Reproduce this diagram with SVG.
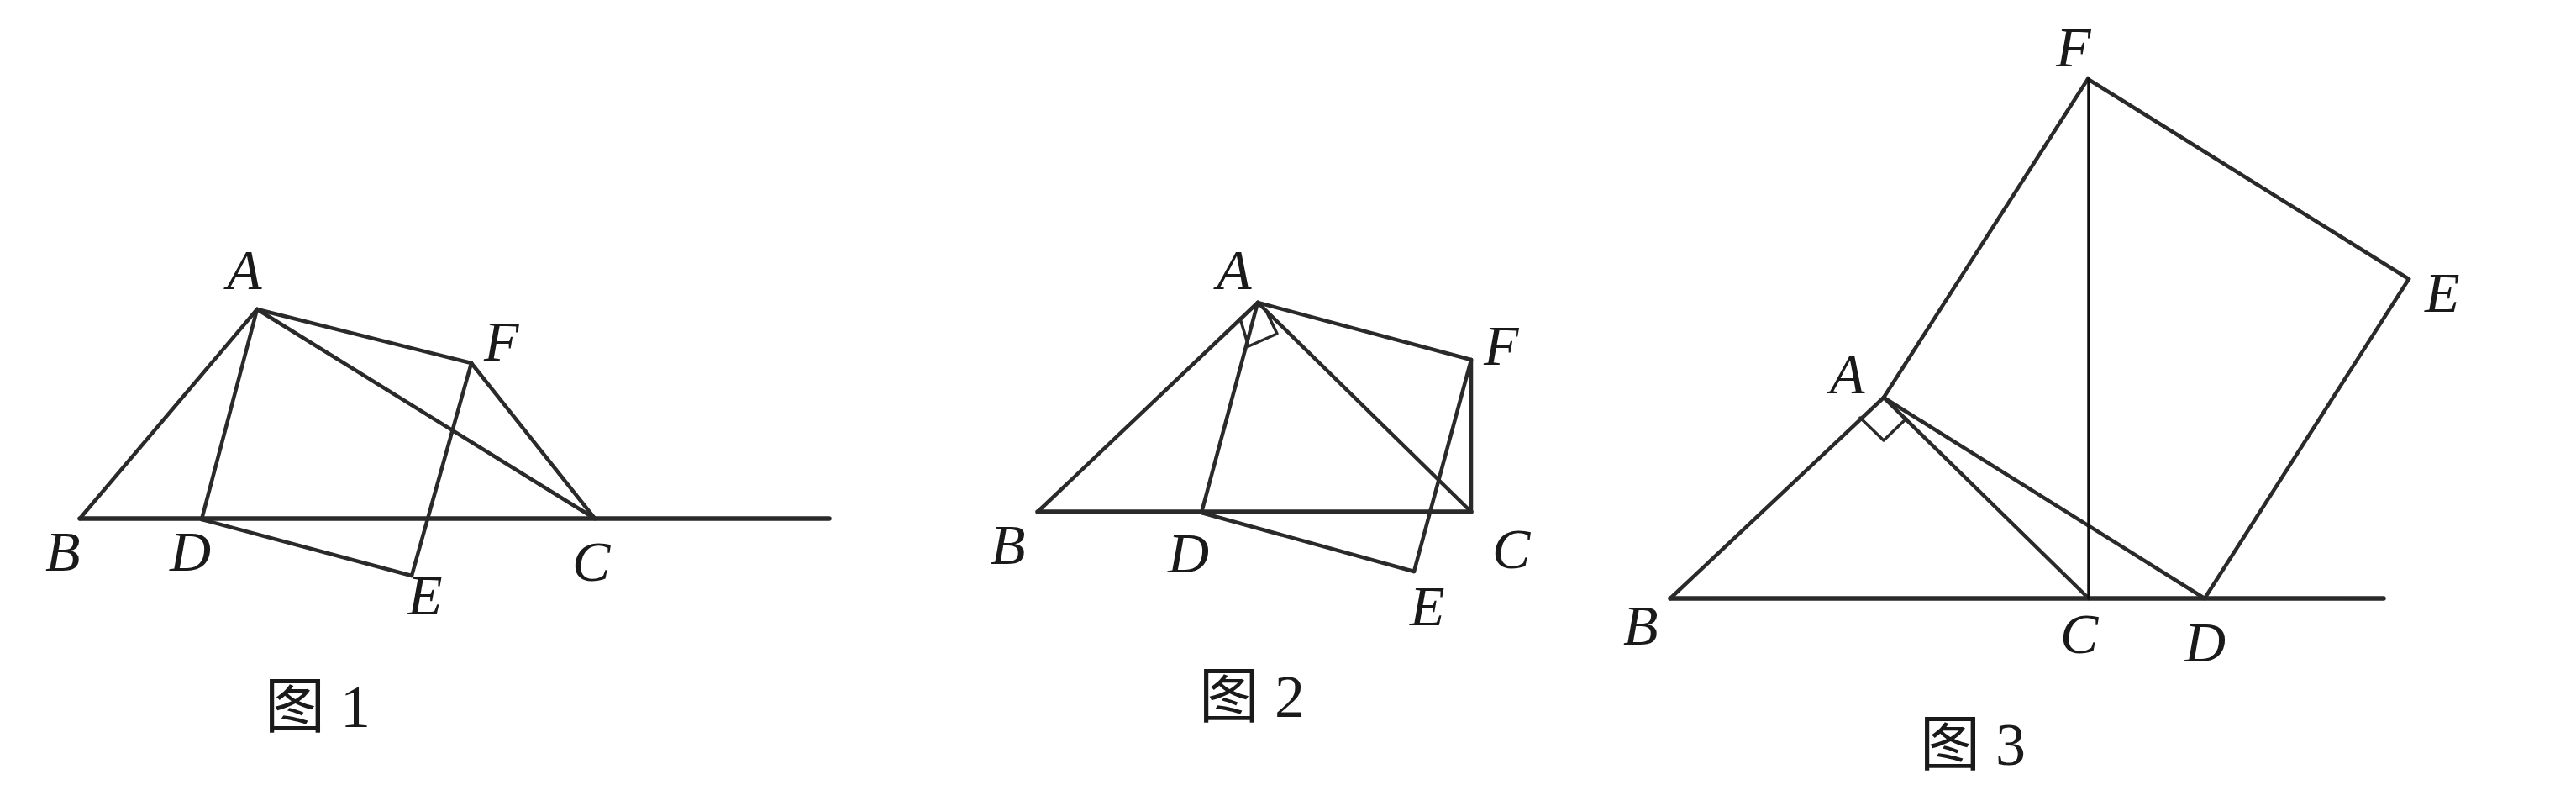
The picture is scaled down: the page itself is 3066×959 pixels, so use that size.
<svg xmlns="http://www.w3.org/2000/svg" width="3066" height="959" viewBox="0 0 3066 959">
<style>
.ln{stroke:#2a2a2a;stroke-width:4.5;fill:none;stroke-linecap:round;stroke-linejoin:round}
.base{stroke-width:5.5}
.thin{stroke:#111;stroke-width:3.5}
.lbl{font-family:"Liberation Serif","Times New Roman",serif;font-style:italic;font-size:68px;fill:#1a1a1a}
.cap{font-family:"Liberation Serif","Noto Sans CJK SC",serif;font-size:72px;fill:#1a1a1a}
</style>
<rect width="3066" height="959" fill="#fff"/>

<g id="fig1">
  <g id="fig1-lines">
    <line class="ln base" x1="95" y1="617" x2="987" y2="617"/>
    <line class="ln" x1="306" y1="368" x2="95" y2="617"/>
    <line class="ln" x1="306" y1="368" x2="240" y2="618"/>
    <line class="ln" x1="306" y1="368" x2="708" y2="617"/>
    <line class="ln" x1="306" y1="368" x2="561" y2="432"/>
    <line class="ln" x1="561" y1="432" x2="708" y2="617"/>
    <line class="ln" x1="561" y1="432" x2="490" y2="685"/>
    <line class="ln" x1="240" y1="618" x2="490" y2="685"/>
  </g>
  <g id="fig1-A"><text class="lbl" x="270" y="344">A</text></g>
  <g id="fig1-F"><text class="lbl" x="576" y="429">F</text></g>
  <g id="fig1-B"><text class="lbl" x="54" y="679">B</text></g>
  <g id="fig1-D"><text class="lbl" x="202" y="679">D</text></g>
  <g id="fig1-E"><text class="lbl" x="485" y="731">E</text></g>
  <g id="fig1-C"><text class="lbl" x="681" y="691">C</text></g>
  <g id="fig1-caption"><text class="cap" x="315" y="865">图 1</text></g>
</g>

<g id="fig2">
  <g id="fig2-lines">
    <line class="ln base" x1="1235" y1="609" x2="1751" y2="609"/>
    <line class="ln" x1="1497" y1="360" x2="1235" y2="609"/>
    <line class="ln" x1="1497" y1="360" x2="1430" y2="610"/>
    <line class="ln" x1="1497" y1="360" x2="1751" y2="609"/>
    <line class="ln" x1="1497" y1="360" x2="1751" y2="428"/>
    <line class="ln" x1="1751" y1="428" x2="1751" y2="609"/>
    <line class="ln" x1="1751" y1="428" x2="1683" y2="680"/>
    <line class="ln" x1="1430" y1="610" x2="1683" y2="680"/>
    <path class="ln" style="stroke-width:3.5" d="M1476 379 L1486 412 L1520 397 L1507 370"/>
  </g>
  <g id="fig2-A"><text class="lbl" x="1448" y="344">A</text></g>
  <g id="fig2-F"><text class="lbl" x="1766" y="434">F</text></g>
  <g id="fig2-B"><text class="lbl" x="1179" y="671">B</text></g>
  <g id="fig2-D"><text class="lbl" x="1390" y="681">D</text></g>
  <g id="fig2-E"><text class="lbl" x="1678" y="744">E</text></g>
  <g id="fig2-C"><text class="lbl" x="1776" y="676">C</text></g>
  <g id="fig2-caption"><text class="cap" x="1427" y="853">图 2</text></g>
</g>

<g id="fig3">
  <g id="fig3-lines">
    <line class="ln base" x1="1988" y1="712" x2="2837" y2="712"/>
    <line class="ln" x1="2242" y1="473" x2="1988" y2="712"/>
    <line class="ln" x1="2242" y1="473" x2="2485" y2="94"/>
    <line class="ln" x1="2485" y1="94" x2="2867" y2="332"/>
    <line class="ln" x1="2867" y1="332" x2="2624" y2="712"/>
    <line class="ln" x1="2242" y1="473" x2="2624" y2="712"/>
    <line class="ln" x1="2242" y1="473" x2="2486" y2="712"/>
    <line class="ln thin" x1="2486" y1="94" x2="2486" y2="712"/>
    <path class="ln" style="stroke-width:3.5" d="M2214 497 L2242 524 L2269 498"/>
  </g>
  <g id="fig3-F"><text class="lbl" x="2447" y="79">F</text></g>
  <g id="fig3-E"><text class="lbl" x="2886" y="371">E</text></g>
  <g id="fig3-A"><text class="lbl" x="2178" y="468">A</text></g>
  <g id="fig3-B"><text class="lbl" x="1932" y="767">B</text></g>
  <g id="fig3-C"><text class="lbl" x="2452" y="777">C</text></g>
  <g id="fig3-D"><text class="lbl" x="2600" y="787">D</text></g>
  <g id="fig3-caption"><text class="cap" x="2285" y="910">图 3</text></g>
</g>
</svg>
